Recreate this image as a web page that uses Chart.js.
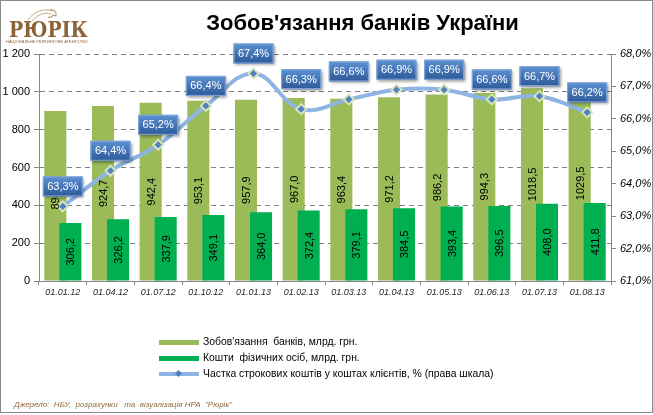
<!DOCTYPE html>
<html>
<head>
<meta charset="utf-8">
<script src="https://cdn.jsdelivr.net/npm/chart.js@4/dist/chart.umd.min.js"></script>
<style>
  html, body { margin: 0; padding: 0; background: #fff; }
  #wrap { position: relative; width: 653px; height: 415px; font-family: 'Liberation Sans', Arial, sans-serif; }
  #frame { position: absolute; left: 0; top: 0; width: 651px; height: 411px; border: 1px solid #8a8a8a; pointer-events: none; }
  canvas { position: absolute; left: 0; top: 0; }
  .abs { position: absolute; white-space: nowrap; }
  #title { left: 0; width: 725px; top: 10px; text-align: center; font-size: 22px; font-weight: bold; color: #000; }
  #logo { left: 9px; top: 15px; font-family: 'DejaVu Serif', serif; font-size: 23px; font-weight: bold; color: #8c6239; transform: scaleX(0.82); transform-origin: left top; }
  #logoSub { left: 6px; top: 39px; font-size: 4px; color: #8c6239; }
  #eagle { left: 26px; top: 5px; }
  .leg { left: 159px; font-size: 10.4px; color: #000; line-height: 12px; }
  .sw { display: inline-block; width: 40px; height: 5px; vertical-align: middle; margin-right: 4px; }
  #source { left: 14px; top: 400px; font-size: 8px; font-style: italic; color: #8f6a3c; }
</style>
</head>
<body>
<div id="wrap">
  <canvas id="chart" width="653" height="415"></canvas>
  <div class="abs" id="title">Зобов'язання банків України</div>
  <svg class="abs" id="eagle" width="34" height="18" viewBox="0 0 34 18">
    <path d="M2 15 C8 6, 18 3, 27 6" stroke="#c7ab8a" stroke-width="1" fill="none"/>
    <path d="M6 16 C12 9, 19 7, 25 9" stroke="#c7ab8a" stroke-width="1" fill="none"/>
    <path d="M24 5 C28 4, 31 7, 30 11 L27 10 C26 12, 24 13, 22 12" stroke="#b8976f" stroke-width="1.2" fill="none"/>
  </svg>
  <div class="abs" id="logo">РЮРІК</div>
  <div class="abs" id="logoSub">НАЦІОНАЛЬНЕ РЕЙТИНГОВЕ АГЕНТСТВО</div>
  <div class="abs leg" style="top:336px"><span class="sw" style="background:#9bbb59"></span>Зобов'язання&nbsp; банків, млрд. грн.</div>
  <div class="abs leg" style="top:352px"><span class="sw" style="background:#00b050"></span>Кошти&nbsp; фізичних осіб, млрд. грн.</div>
  <div class="abs leg" style="top:368px"><span class="sw" style="height:4px;background:#8db4e2;position:relative"><span style="position:absolute;left:17px;top:-1px;width:5px;height:5px;background:#4f81bd;transform:rotate(45deg)"></span></span>Частка строкових коштів у коштах клієнтів, % (права шкала)</div>
  <div class="abs" id="source">Джерело:&nbsp; НБУ,&nbsp; розрахунки&nbsp;&nbsp; та&nbsp; візуалізація НРА&nbsp; "Рюрік"</div>
  <div id="frame"></div>
</div>
<script>
// Chart data
const dates = ['01.01.12', '01.04.12', '01.07.12', '01.10.12', '01.01.13', '01.02.13',
               '01.03.13', '01.04.13', '01.05.13', '01.06.13', '01.07.13', '01.08.13'];
const liabilities = [898.5, 924.7, 942.4, 953.1, 957.9, 967.0, 963.4, 971.2, 986.2, 994.3, 1018.5, 1029.5];
const deposits = [306.2, 326.2, 337.9, 349.1, 364.0, 372.4, 379.1, 384.5, 393.4, 396.5, 408.0, 411.8];
const termShare = [63.3, 64.4, 65.2, 66.4, 67.4, 66.3, 66.6, 66.9, 66.9, 66.6, 66.7, 66.2];
const leftTicks = [0, 200, 400, 600, 800, 1000, 1200];
const rightTicks = [61, 62, 63, 64, 65, 66, 67, 68];

function fmtNum(v) {
    if (v >= 1000) {
        return Math.floor(v / 1000) + ' ' + String(v % 1000).padStart(3, '0');
    }
    return String(v);
}

function fmtPct(v) {
    return v.toFixed(1).replace('.', ',') + '%';
}

Chart.defaults.font.family = "'Liberation Sans', Arial, sans-serif";
Chart.defaults.color = '#000';

// green bars must sit on top of olive ones but stay on the right
const greenOnTop = {
    id: 'greenOnTop',
    beforeDatasetDraw(chart, args) {
        if (args.index === 1 && !chart.$greenNow) return false;
    },
    afterDatasetDraw(chart, args) {
        if (args.index === 0) {
            chart.$greenNow = true;
            chart.getDatasetMeta(1).controller.draw();
            chart.$greenNow = false;
        }
    }
};

// value labels on bars and boxed labels on the line
const valueLabels = {
    id: 'valueLabels',
    afterDatasetsDraw(chart) {
        const ctx = chart.ctx;
        ctx.save();
        ctx.font = "11px 'Liberation Sans', Arial";
        ctx.fillStyle = '#000';
        ctx.textAlign = 'center';
        ctx.textBaseline = 'middle';
        [0, 1].forEach(di => {
            const meta = chart.getDatasetMeta(di);
            const vals = chart.data.datasets[di].data;
            meta.data.forEach((bar, i) => {
                const mid = (bar.y + bar.base) / 2;
                ctx.save();
                ctx.translate(bar.x + 1, mid);
                ctx.rotate(-Math.PI / 2);
                ctx.fillText(vals[i].toFixed(1).replace('.', ','), 0, 0);
                ctx.restore();
            });
        });

        const lineMeta = chart.getDatasetMeta(2);
        lineMeta.data.forEach((pt, i) => {
            let lift = 20;
            if (i === 5) lift = 30;
            if (i === 6) lift = 28;
            const cx = pt.x, cy = pt.y - lift;
            const w = 40, h = 20;
            ctx.save();
            ctx.shadowColor = 'rgba(0,0,0,0.4)';
            ctx.shadowBlur = 3;
            ctx.shadowOffsetX = 1.5;
            ctx.shadowOffsetY = 2;
            const g = ctx.createLinearGradient(0, cy - h / 2, 0, cy + h / 2);
            g.addColorStop(0, '#5d92d4');
            g.addColorStop(1, '#2c5999');
            ctx.fillStyle = g;
            ctx.fillRect(cx - w / 2, cy - h / 2, w, h);
            ctx.restore();
            ctx.strokeStyle = '#86aadb';
            ctx.lineWidth = 1;
            ctx.strokeRect(cx - w / 2 + 0.5, cy - h / 2 + 0.5, w - 1, h - 1);
            ctx.fillStyle = '#fff';
            ctx.font = "11px 'Liberation Sans', Arial";
            ctx.fillText(fmtPct(termShare[i]), cx, cy + 0.5);
        });
        ctx.restore();
    }
};

const ctx = document.getElementById('chart').getContext('2d');
new Chart(ctx, {
    type: 'bar',
    data: {
        labels: dates,
        datasets: [
            {
                label: "Зобов'язання банків, млрд. грн.",
                data: liabilities,
                backgroundColor: '#9bbb59',
                categoryPercentage: 0.63,
                barPercentage: 1.47,
                yAxisID: 'y',
                order: 1
            },
            {
                label: 'Кошти фізичних осіб, млрд. грн.',
                data: deposits,
                backgroundColor: '#00b050',
                categoryPercentage: 0.63,
                barPercentage: 1.47,
                yAxisID: 'y',
                order: 1
            },
            {
                type: 'line',
                label: 'Частка строкових коштів у коштах клієнтів, % (права шкала)',
                data: termShare,
                borderColor: '#8db4e2',
                borderWidth: 4,
                tension: 0.4,
                pointStyle: 'rectRot',
                pointRadius: 5,
                pointBackgroundColor: '#4f81bd',
                pointBorderColor: '#d7e4bd',
                pointBorderWidth: 2,
                yAxisID: 'y1',
                order: 0
            }
        ]
    },
    options: {
        responsive: false,
        animation: false,
        layout: { padding: { top: 54, bottom: 114, left: 0, right: 0 } },
        plugins: {
            legend: { display: false },
            tooltip: { enabled: false }
        },
        scales: {
            x: {
                afterFit: s => { s.height = 20; },
                grid: { drawOnChartArea: false, tickLength: 4, color: '#868686', offset: true },
                border: { color: '#868686' },
                ticks: {
                    padding: 2,
                    maxRotation: 0,
                    autoSkip: false,
                    color: '#262626',
                    font: { size: 9, style: 'italic' }
                }
            },
            y: {
                position: 'left',
                min: 0,
                max: 1200,
                afterFit: s => { s.width = 39; },
                afterBuildTicks: s => { s.ticks = leftTicks.map(v => ({ value: v })); },
                grid: { color: '#7f7f7f', tickLength: 5, tickColor: '#868686', tickBorderDash: [] },
                border: { color: '#868686', dash: [5, 4] },
                ticks: {
                    padding: 4,
                    font: { size: 11 },
                    callback: v => fmtNum(v)
                }
            },
            y1: {
                position: 'right',
                min: 61,
                max: 68,
                afterFit: s => { s.width = 42; },
                afterBuildTicks: s => { s.ticks = rightTicks.map(v => ({ value: v })); },
                grid: { drawOnChartArea: false, tickLength: 5, color: '#868686' },
                border: { color: '#868686' },
                ticks: {
                    padding: 4,
                    font: { size: 11, style: 'italic' },
                    callback: v => fmtPct(v)
                }
            }
        }
    },
    plugins: [greenOnTop, valueLabels]
});
</script>
</body>
</html>
